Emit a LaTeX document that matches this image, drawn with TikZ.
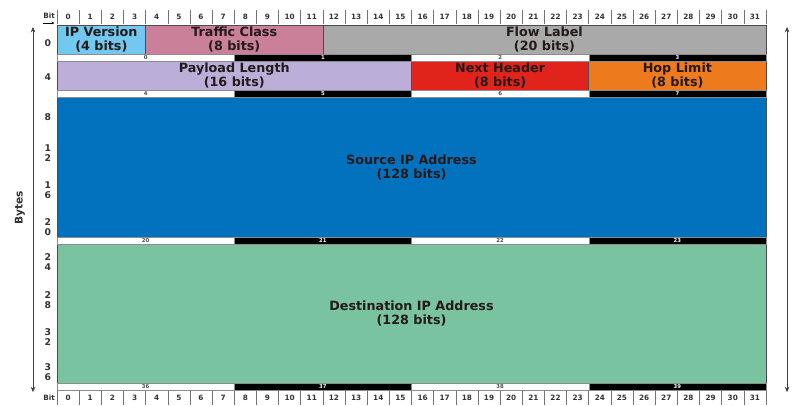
\documentclass[tikz,border=0pt]{standalone}
\usepackage{fontspec}
\setsansfont{DejaVu Sans}
\usetikzlibrary{arrows.meta}

\definecolor{ipvercol}{HTML}{72C8EE}
\definecolor{trafficcol}{HTML}{C98098}
\definecolor{flowcol}{HTML}{A9A9A9}
\definecolor{payloadcol}{HTML}{BBAFD9}
\definecolor{nexthdrcol}{HTML}{E0241C}
\definecolor{hopcol}{HTML}{EE7A1E}
\definecolor{srccol}{HTML}{0272BE}
\definecolor{dstcol}{HTML}{7AC3A0}
\definecolor{fieldtext}{HTML}{241A1A}

% one bit across, one pixel down
\newcommand{\bitw}{0.5871cm}
\newcommand{\pxh}{0.0265cm}

\tikzset{
  field/.style 2 args={draw=black!70, line width=0.4pt, anchor=north west,
    minimum width=#1*\bitw, minimum height=#2*\pxh, inner sep=0pt, outer sep=0pt,
    align=center, text=fieldtext, font=\sffamily\bfseries\fontsize{9.6}{10.5}\selectfont},
  strip/.style={draw=black!45, line width=0.3pt, anchor=north west,
    minimum width=8*\bitw, minimum height=7*\pxh, inner sep=0pt, outer sep=0pt,
    font=\sffamily\bfseries\fontsize{4}{4}\selectfont},
  bitnum/.style={inner sep=0pt, text=black!80, font=\sffamily\bfseries\fontsize{5.5}{5.5}\selectfont},
  rulesep/.style={draw=black!55, line width=0.4pt},
  offs/.style={inner sep=0pt, align=center, text=black!80, font=\sffamily\bfseries\fontsize{7}{7.6}\selectfont},
  sidearrow/.style={draw=black!75, line width=0.6pt, {Stealth[length=4pt,width=3.5pt]}-{Stealth[length=4pt,width=3.5pt]}}
}

\begin{document}
\begin{tikzpicture}[x=\bitw, y=-\pxh]
  \useasboundingbox (-2.5727,0) rectangle (33.264,405);

  % bit rulers
  \node[bitnum] (bittop) at (-0.36,16) {Bit};
  \node[bitnum] (bitbot) at (-0.36,398) {Bit};
  \coordinate (bitarrA) at (-0.62,23);
  \coordinate (bitarrB) at (-0.12,23);
  \draw[line width=0.4pt, -{Stealth[length=2pt,width=2pt]}] (bitarrA) -- (bitarrB);
  \foreach \k in {0,...,31} {
    \node[bitnum] (tb\k) at (\k+0.5,17) {\k};
    \node[bitnum] (bb\k) at (\k+0.5,398) {\k};
  }
  \foreach \k in {0,...,32} {
    \draw[rulesep] (\k,10) -- (\k,24);
    \draw[rulesep] (\k,391) -- (\k,405);
  }

  % header fields
  \node[field={4}{29}, fill=ipvercol] (ipver) at (0,25) {IP Version\\(4 bits)};
  \node[field={8}{29}, fill=trafficcol] (traffic) at (4,25) {Traffic Class\\(8 bits)};
  \node[field={20}{29}, fill=flowcol] (flow) at (12,25) {Flow Label\\(20 bits)};
  \node[field={16}{29}, fill=payloadcol] (payload) at (0,61) {Payload Length\\(16 bits)};
  \node[field={8}{29}, fill=nexthdrcol] (nexthdr) at (16,61) {Next Header\\(8 bits)};
  \node[field={8}{29}, fill=hopcol] (hoplim) at (24,61) {Hop Limit\\(8 bits)};
  \node[field={32}{140}, fill=srccol] (srcaddr) at (0,97) {Source IP Address\\(128 bits)};
  \node[field={32}{139}, fill=dstcol] (dstaddr) at (0,244) {Destination IP Address\\(128 bits)};

  % byte strips
  \foreach \sy/\a/\b/\c/\d in {54/0/1/2/3, 90/4/5/6/7, 237/20/21/22/23, 383/36/37/38/39} {
    \node[strip, fill=white, text=black!70] (s\a) at (0,\sy) {\a};
    \node[strip, fill=black, text=white!80] (s\b) at (8,\sy) {\b};
    \node[strip, fill=white, text=black!70] (s\c) at (16,\sy) {\c};
    \node[strip, fill=black, text=white!80] (s\d) at (24,\sy) {\d};
  }

  % byte offsets
  \node[offs] (o0) at (-0.41,43) {0};
  \node[offs] (o4) at (-0.41,77) {4};
  \node[offs] (o8) at (-0.41,117) {8};
  \node[offs] (o12) at (-0.41,153) {1\\2};
  \node[offs] (o16) at (-0.41,190) {1\\6};
  \node[offs] (o20) at (-0.41,227) {2\\0};
  \node[offs] (o24) at (-0.41,262) {2\\4};
  \node[offs] (o28) at (-0.41,300) {2\\8};
  \node[offs] (o32) at (-0.41,337) {3\\2};
  \node[offs] (o36) at (-0.41,372) {3\\6};

  % side arrows
  \coordinate (ltop) at (-1.083,27);
  \coordinate (lbot) at (-1.083,392);
  \coordinate (rtop) at (32.95,27);
  \coordinate (rbot) at (32.95,392);
  \draw[sidearrow] (ltop) -- (lbot);
  \draw[sidearrow] (rtop) -- (rbot);
  \node[rotate=90, inner sep=0pt, text=black!80, font=\sffamily\bfseries\fontsize{8}{8}\selectfont] (bytes) at (-1.67,208) {Bytes};
\end{tikzpicture}
\end{document}
